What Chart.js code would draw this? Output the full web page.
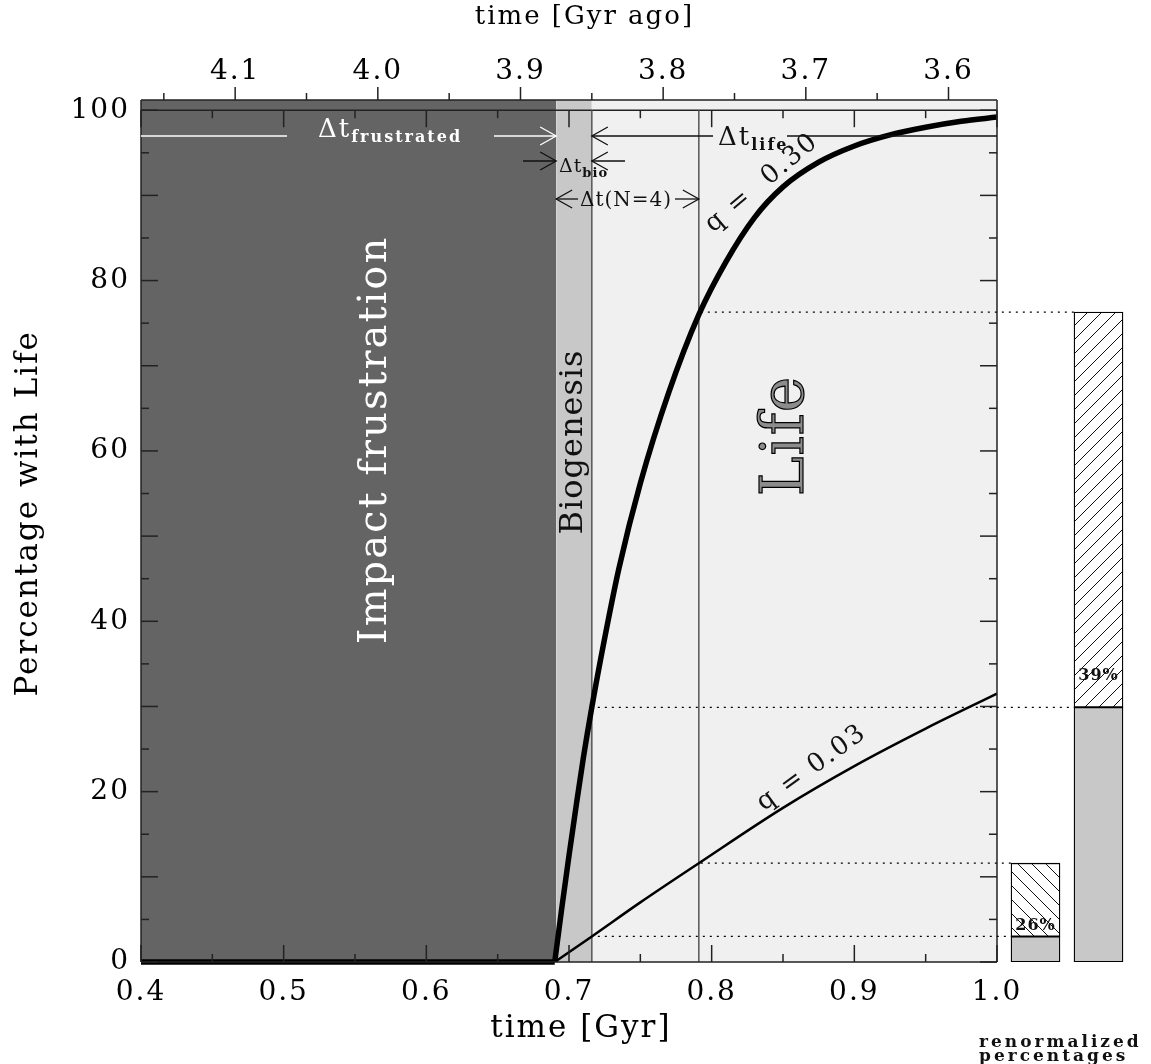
<!DOCTYPE html>
<html>
<head>
<meta charset="utf-8">
<style>
  body { margin: 0; background: #fff; }
  #wrap { position: relative; width: 1151px; height: 1064px; }
  #wrap canvas { position: absolute; left: 0; top: 0; }
</style>
</head>
<body>
<div id="wrap">
    <canvas id="lifeChart" width="1151" height="1064"></canvas>
    <canvas id="barChart" width="1151" height="1064"></canvas>
</div>

<script src="https://cdn.jsdelivr.net/npm/chart.js@4.4.1/dist/chart.umd.min.js"></script>
<script>
    // age of the solar system [Gyr], for the "Gyr ago" axis
    const AGE = 4.566
    const Y_MAX = 101.2

    // shaded phases [Gyr]: impact frustration, biogenesis, life
    const regionEdges = [0.4, 0.691, 0.716, 1.0]
    const regionColors = ['#646464', '#c8c8c8', '#f0f0f0']
    const tN4 = 0.791

    // percentage with life, q = 0.30
    const q30Time = [0.4, 0.69, 0.695, 0.70, 0.705, 0.71, 0.716, 0.725, 0.735, 0.75, 0.77, 0.791, 0.81, 0.83, 0.85, 0.875, 0.90, 0.925, 0.95, 0.975, 1.0]
    const q30Pct = [0, 0, 6.4, 12.5, 18.3, 23.9, 29.9, 38.0, 46.2, 56.2, 66.9, 76.0, 82.2, 87.4, 91.0, 93.9, 95.8, 97.1, 98.0, 98.7, 99.2]

    // percentage with life, q = 0.03
    const q03Time = [0.4, 0.69, 0.716, 0.75, 0.791, 0.85, 0.90, 0.95, 1.0]
    const q03Pct = [0, 0, 3.0, 7.0, 11.6, 18.1, 23.0, 27.4, 31.5]

    // renormalized bars: value at end of biogenesis and at N=4
    const barLabels = ['q = 0.03', 'q = 0.30']
    const barLow = [3.0, 29.9]
    const barHigh = [11.6, 76.3]

    // tick labels
    const xTickValues = [0.4, 0.5, 0.6, 0.7, 0.8, 0.9, 1.0]
    const agoTickValues = [4.1, 4.0, 3.9, 3.8, 3.7, 3.6]
    const yTickValues = [0, 20, 40, 60, 80, 100]

    const FONT = 'DejaVu Serif'
    const pts = (xs, ys) => xs.map((x, i) => ({x: x, y: ys[i]}))
    const fixTicks = vals => scale => { scale.ticks = vals.map(v => ({value: v})) }

    function seg(ctx, x0, y0, x1, y1) {
        ctx.beginPath()
        ctx.moveTo(x0, y0)
        ctx.lineTo(x1, y1)
        ctx.stroke()
    }

    function head(ctx, tx, ty, dir) {
        ctx.beginPath()
        ctx.moveTo(tx - dir * 16, ty - 9)
        ctx.lineTo(tx, ty)
        ctx.lineTo(tx - dir * 16, ty + 9)
        ctx.stroke()
    }

    function delta(ctx, x, y, sub, size, subSize, drop) {
        ctx.font = size + 'px ' + FONT
        ctx.fillText('\u0394t', x, y)
        const w = ctx.measureText('\u0394t').width
        ctx.font = 'bold ' + subSize + 'px ' + FONT
        ctx.fillText(sub, x + w, y + drop)
    }

    function rotText(ctx, text, cx, cy, deg, font, fill, stroke) {
        ctx.save()
        ctx.translate(cx, cy)
        ctx.rotate(deg * Math.PI / 180)
        ctx.font = font
        ctx.textAlign = 'center'
        ctx.textBaseline = 'middle'
        ctx.fillStyle = fill
        ctx.fillText(text, 0, 0)
        if (stroke) {
            ctx.lineWidth = 1.2
            ctx.strokeStyle = stroke
            ctx.strokeText(text, 0, 0)
        }
        ctx.restore()
    }

    const decor = {
        id: 'decor',
        beforeDraw(chart) {
            chart.ctx.letterSpacing = '2px'
        },
        afterDraw(chart) {
            const ctx = chart.ctx
            const a = chart.chartArea
            const x = chart.scales.x, x2 = chart.scales.x2, y = chart.scales.y
            const top100 = y.getPixelForValue(100)
            ctx.save()
            ctx.strokeStyle = '#222'
            ctx.lineWidth = 1.5
            seg(ctx, a.left, a.top, a.right, a.top)
            seg(ctx, a.left, a.bottom, a.right, a.bottom)
            seg(ctx, a.left, a.top, a.left, a.bottom)
            seg(ctx, a.right, a.top, a.right, a.bottom)

            // inward time ticks on the plot box
            for (let k = 0; k <= 12; k++) {
                const px = x.getPixelForValue(0.4 + k * 0.05)
                const len = k % 2 ? 8 : 17
                seg(ctx, px, a.bottom, px, a.bottom - len)
                seg(ctx, px, top100, px, top100 + len)
            }
            // outward "Gyr ago" ticks
            for (let k = 0; k <= 11; k++) {
                const px = x2.getPixelForValue(3.6 + k * 0.05)
                const len = k % 2 ? 7 : 13
                seg(ctx, px, a.top, px, a.top - len)
            }
            // percentage ticks left and right
            for (let k = 0; k <= 20; k++) {
                const py = y.getPixelForValue(k * 5)
                const len = k % 2 ? 8 : 17
                seg(ctx, a.left, py, a.left + len, py)
                seg(ctx, a.right, py, a.right - len, py)
            }

            const xF = x.getPixelForValue(regionEdges[1])
            const xB = x.getPixelForValue(regionEdges[2])
            const xN = x.getPixelForValue(tN4)
            ctx.lineWidth = 1.3
            ctx.textBaseline = 'alphabetic'
            ctx.textAlign = 'left'

            // delta t frustrated (white)
            ctx.strokeStyle = '#fff'
            ctx.fillStyle = '#fff'
            seg(ctx, a.left, 136, 287, 136)
            seg(ctx, 494, 136, xF, 136)
            head(ctx, xF, 136, 1)
            delta(ctx, 318, 137, 'frustrated', 26, 16, 5)

            // delta t life
            ctx.strokeStyle = '#111'
            ctx.fillStyle = '#111'
            seg(ctx, xB, 136, 713, 136)
            head(ctx, xB, 136, -1)
            seg(ctx, 787, 136, a.right, 136)
            delta(ctx, 718, 145, 'life', 26, 16, 5)

            // delta t bio
            seg(ctx, 523, 161, xF, 161)
            head(ctx, xF, 161, 1)
            seg(ctx, 625, 161, xB, 161)
            head(ctx, xB, 161, -1)
            ctx.letterSpacing = '1px'
            delta(ctx, 559, 172, 'bio', 19, 13, 5)

            // delta t (N=4)
            seg(ctx, xF, 199, 578, 199)
            head(ctx, xF, 199, -1)
            seg(ctx, 675, 199, xN, 199)
            head(ctx, xN, 199, 1)
            ctx.font = '20px ' + FONT
            ctx.fillText('\u0394t(N=4)', 580, 206)

            ctx.letterSpacing = '2px'
            rotText(ctx, 'Impact frustration', 376, 440, -90, '40px ' + FONT, '#fff')
            ctx.letterSpacing = '1px'
            rotText(ctx, 'Biogenesis', 574, 442, -90, '32px ' + FONT, '#111')
            rotText(ctx, 'Life', 787, 436, -90, '60px ' + FONT, '#8c8c8c', '#000')
            ctx.letterSpacing = '2px'
            rotText(ctx, 'q =  0.30', 762, 183, -40, '26px ' + FONT, '#111')
            rotText(ctx, 'q = 0.03', 812, 768, -36, '26px ' + FONT, '#111')
            ctx.restore()
        }
    }

    const lineOpts = {pointRadius: 0, borderColor: '#000', fill: false}
    const datasets = [
        Object.assign({label: 'q = 0.30', data: pts(q30Time.slice(1), q30Pct.slice(1)), borderWidth: 5.5,
            cubicInterpolationMode: 'monotone', clip: {left: 0, top: 0, right: 0, bottom: 3}}, lineOpts),
        Object.assign({label: 'q = 0.30 (before life)', data: pts(q30Time.slice(0, 2), q30Pct.slice(0, 2)),
            borderWidth: 5.5, clip: {left: 0, top: 0, right: 0, bottom: 3}}, lineOpts),
        Object.assign({label: 'q = 0.03', data: pts(q03Time.slice(1), q03Pct.slice(1)), borderWidth: 2.5,
            cubicInterpolationMode: 'monotone'}, lineOpts),
        Object.assign({label: 'end of biogenesis', data: [{x: regionEdges[2], y: 0}, {x: regionEdges[2], y: 100}],
            borderWidth: 1.5}, lineOpts, {borderColor: '#555'}),
        Object.assign({label: 'N = 4', data: [{x: tN4, y: 0}, {x: tN4, y: 100}],
            borderWidth: 1.5}, lineOpts, {borderColor: '#555'}),
        Object.assign({label: 'top', data: [{x: 0.4, y: 100}, {x: 1.0, y: 100}],
            borderWidth: 1.5}, lineOpts, {borderColor: '#222'})
    ]
    regionColors.forEach((c, i) => {
        datasets.push({
            label: 'region ' + i,
            data: [{x: regionEdges[i], y: Y_MAX}, {x: regionEdges[i + 1], y: Y_MAX}],
            fill: 'start', backgroundColor: c, borderWidth: 0, pointRadius: 0
        })
    })

    const tickFont = {family: FONT, size: 28}

    const mainChart = new Chart(document.getElementById('lifeChart'), {
        type: 'line',
        data: {datasets: datasets},
        options: {
            responsive: false,
            animation: false,
            events: [],
            layout: {padding: {left: 0, right: 154, top: 0, bottom: 0}},
            plugins: {legend: {display: false}, tooltip: {enabled: false}},
            scales: {
                x: {
                    type: 'linear', position: 'bottom', min: 0.4, max: 1.0,
                    grid: {display: false, drawTicks: false}, border: {display: false},
                    afterBuildTicks: fixTicks(xTickValues),
                    afterFit: s => { s.height = 102 },
                    ticks: {font: tickFont, color: '#000', padding: 14, callback: v => v.toFixed(1)},
                    title: {display: true, text: '  time [Gyr]', font: {family: FONT, size: 31}, color: '#000',
                        padding: {top: 0, bottom: 16}}
                },
                x2: {
                    type: 'linear', position: 'top', min: AGE - 1.0, max: AGE - 0.4, reverse: true,
                    grid: {display: false, drawTicks: false}, border: {display: false},
                    afterBuildTicks: fixTicks(agoTickValues),
                    afterFit: s => { s.height = 100 },
                    ticks: {font: tickFont, color: '#000', padding: 11, callback: v => v.toFixed(1)},
                    title: {display: true, text: '   time [Gyr ago]', font: {family: FONT, size: 26}, color: '#000',
                        padding: {top: 2, bottom: 0}}
                },
                y: {
                    type: 'linear', position: 'left', min: 0, max: Y_MAX,
                    grid: {display: false, drawTicks: false}, border: {display: false},
                    afterBuildTicks: fixTicks(yTickValues),
                    afterFit: s => { s.width = 141 },
                    ticks: {font: tickFont, color: '#000', padding: 11},
                    title: {display: true, text: '   Percentage with Life', font: {family: FONT, size: 31}, color: '#000',
                        padding: {top: 10, bottom: 0}}
                }
            }
        },
        plugins: [decor]
    })

    // hatch patterns for the renormalized bars
    const barCanvas = document.getElementById('barChart')
    function hatch(forward) {
        const s = 14
        const c = document.createElement('canvas')
        c.width = s
        c.height = s
        const g = c.getContext('2d')
        g.fillStyle = '#fff'
        g.fillRect(0, 0, s, s)
        g.strokeStyle = '#111'
        g.lineWidth = 1
        g.beginPath()
        if (forward) {
            g.moveTo(0, s); g.lineTo(s, 0)
            g.moveTo(-1, 1); g.lineTo(1, -1)
            g.moveTo(s - 1, s + 1); g.lineTo(s + 1, s - 1)
        } else {
            g.moveTo(0, 0); g.lineTo(s, s)
            g.moveTo(s - 1, -1); g.lineTo(s + 1, 1)
            g.moveTo(-1, s - 1); g.lineTo(1, s + 1)
        }
        g.stroke()
        return barCanvas.getContext('2d').createPattern(c, 'repeat')
    }

    const barDecor = {
        id: 'barDecor',
        afterDraw(chart) {
            const ctx = chart.ctx
            const y = chart.scales.y
            const xm = mainChart.scales.x
            const meta = chart.getDatasetMeta(1)
            ctx.save()
            ctx.setLineDash([2, 5])
            ctx.strokeStyle = '#000'
            ctx.lineWidth = 1.2
            barLabels.forEach((lab, i) => {
                const bar = meta.data[i]
                const left = bar.x - bar.width / 2
                const pLow = y.getPixelForValue(barLow[i])
                const pHigh = y.getPixelForValue(barHigh[i])
                seg(ctx, xm.getPixelForValue(regionEdges[2]) + 6, pLow, left, pLow)
                seg(ctx, xm.getPixelForValue(tN4) + 2, pHigh, left, pHigh)
            })
            ctx.setLineDash([])

            // share of the N=4 value already reached at the end of biogenesis
            const labelLift = [11, 31]
            ctx.letterSpacing = '1px'
            ctx.font = 'bold 16px ' + FONT
            ctx.textAlign = 'center'
            ctx.textBaseline = 'middle'
            ctx.fillStyle = '#111'
            barLabels.forEach((lab, i) => {
                const bar = meta.data[i]
                const pct = Math.round(barLow[i] / barHigh[i] * 100) + '%'
                ctx.fillText(pct, bar.x, y.getPixelForValue(barLow[i]) - labelLift[i])
            })

            ctx.textAlign = 'left'
            ctx.textBaseline = 'alphabetic'
            ctx.letterSpacing = '3px'
            ctx.font = 'bold 17px ' + FONT
            ctx.fillText('renormalized', 979, 1047)
            ctx.fillText('percentages', 979, 1061)
            ctx.restore()
        }
    }

    new Chart(barCanvas, {
        type: 'bar',
        data: {
            labels: barLabels,
            datasets: [{
                label: 'end of biogenesis',
                data: barLow.map(v => [0, v]),
                backgroundColor: '#c8c8c8', borderColor: '#000', borderWidth: 1.3,
                borderSkipped: false, barThickness: 49, grouped: false
            }, {
                label: 'N = 4',
                data: barLow.map((v, i) => [v, barHigh[i]]),
                backgroundColor: [hatch(false), hatch(true)], borderColor: '#000', borderWidth: 1.3,
                borderSkipped: false, barThickness: 49, grouped: false
            }]
        },
        options: {
            responsive: false,
            animation: false,
            events: [],
            layout: {padding: {left: 1004, right: 21, top: 100, bottom: 102}},
            plugins: {legend: {display: false}, tooltip: {enabled: false}},
            scales: {
                x: {display: false},
                y: {display: false, min: 0, max: Y_MAX}
            }
        },
        plugins: [barDecor]
    })
</script>
</body>
</html>
